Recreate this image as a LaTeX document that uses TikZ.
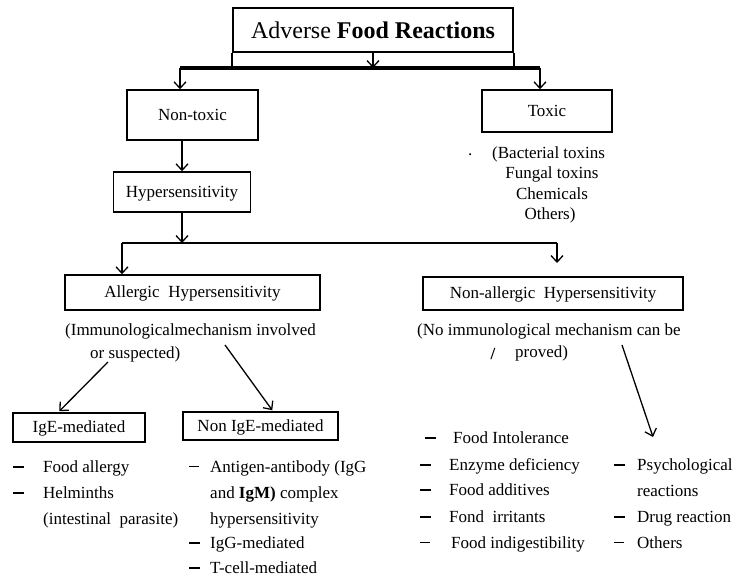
\documentclass[tikz,border=0pt]{standalone}
\usepackage{fontspec}
\setmainfont{Liberation Serif}
\usetikzlibrary{arrows.meta,calc}
% list dashes: heavy and light
\newcommand{\itemdash}{\rule[4.2pt]{11pt}{2pt}}
\newcommand{\itemdashlight}{\rule[4.6pt]{10pt}{1.1pt}}
\begin{document}
\begin{tikzpicture}[x=1pt,y=-1pt,
  txt/.style={font=\fontsize{17}{25}\selectfont, inner sep=0pt},
  item/.style={txt, anchor=base west},
  boxnode/.style={draw, line width=1.5pt, txt, text height=12pt, text depth=1.5pt},
  arr/.style={line width=1.3pt, -{Straight Barb[length=6.5pt,width=12pt]}},
  link/.style={line width=1.5pt},
]
\useasboundingbox (0,0) rectangle (738,577);

% ---------- title and first split ----------
\node[draw, line width=1.8pt, minimum width=280pt, minimum height=44pt,
      font=\fontsize{24}{28}\selectfont, inner sep=0pt] (title) at (373,30)
      {Adverse \textbf{Food Reactions}};
\coordinate (barL) at (180,68);
\coordinate (barR) at (540,68);
\draw[line width=1.6pt] (title.south west) -- (title.south west |- barL);
\draw[line width=1.6pt] (title.south east) -- (title.south east |- barL);
\draw[line width=3.5pt] (barL) -- (barR);
\draw[arr] (title.south) -- (title.south |- barL);

\node[boxnode, minimum width=131pt, minimum height=50pt] (nontox) at (192.5,115) {Non-toxic};
\node[boxnode, minimum width=130pt, minimum height=42pt] (tox) at (547,111) {Toxic};
\draw[arr] (barL) -- (barL |- nontox.north);
\draw[arr] (barR) -- (barR |- tox.north);

% ---------- toxic examples ----------
\node[item] (dot) at (468,156) {.};
\node[item] (tx1) at (492,159) {(Bacterial toxins};
\node[txt, anchor=base] (tx2) at (552,179) {Fungal toxins};
\node[txt, anchor=base] (tx3) at (552,200) {Chemicals};
\node[txt, anchor=base] (tx4) at (550,220) {Others)};

% ---------- hypersensitivity ----------
\node[boxnode, minimum width=137pt, minimum height=40pt] (hyper) at (182,192) {Hypersensitivity};
\draw[arr] (nontox.south -| hyper.north) -- (hyper.north);

\coordinate (hbarL) at (122,243);
\coordinate (hbarR) at (557,243);
\draw[link] (hbarL) -- (hbarR);
\draw[arr] (hyper.south) -- (hyper.south |- hbarL);

\node[boxnode, minimum width=255pt, minimum height=35pt] (allerg) at (192.5,292.5) {Allergic\ \ Hypersensitivity};
\node[boxnode, minimum width=260pt, minimum height=33pt] (nonallerg) at (553,293.5) {Non-allergic\ \ Hypersensitivity};
\coordinate (naTip) at (557,263);
\draw[arr] (hbarL) -- (hbarL |- allerg.north);
\draw[arr] (hbarR) -- (naTip);

% ---------- notes under the two branches ----------
\node[item] (an1) at (65,335) {(Immunologicalmechanism involved};
\node[item] (an2) at (90,358) {or suspected)};
\node[item] (nn1) at (417,335) {(No immunological mechanism can be};
\node[item] (nn2) at (515,357) {proved)};
\node[txt, anchor=base] (slash) at (493,359) {\textbf{/}};

% ---------- allergic sub-types ----------
\node[boxnode, minimum width=132pt, minimum height=29pt] (ige) at (79,427.5) {IgE-mediated};
\node[boxnode, minimum width=155pt, minimum height=28pt] (nonige) at (260.5,426) {Non IgE-mediated};

\coordinate (aStartL) at (108,362);
\coordinate (aStartR) at (225,345);
\draw[arr] (aStartL) -- ($(ige.north west)+(47,-1)$);
\draw[arr] (aStartR) -- ($(nonige.north west)+(90,-1)$);

\coordinate (nStart) at (622,345);
\coordinate (nEnd) at (653,437);
\draw[arr] (nStart) -- (nEnd);

% ---------- IgE-mediated list ----------
\node[item] (d1) at (13,472) {\itemdash};
\node[item] (l1) at (43,472) {Food allergy};
\node[item] (d2) at (13,498) {\itemdash};
\node[item] (l2) at (43,498) {Helminths};
\node[item] (l3) at (43,524) {(intestinal\ \ parasite)};

% ---------- non IgE-mediated list ----------
\node[item] (m0) at (189,472) {\itemdashlight};
\node[item] (m1) at (210,472) {Antigen-antibody (IgG};
\node[item] (m2) at (210,498) {and \textbf{IgM)} complex};
\node[item] (m3) at (210,524) {hypersensitivity};
\node[item] (m4d) at (189,548) {\itemdash};
\node[item] (m4) at (210,548) {IgG-mediated};
\node[item] (m5d) at (189,573) {\itemdash};
\node[item] (m5) at (210,573) {T-cell-mediated};

% ---------- non-allergic lists ----------
\node[item] (r0d) at (425,443) {\itemdash};
\node[item] (r0) at (453,443) {Food Intolerance};
\node[item] (r1d) at (420,470) {\itemdash};
\node[item] (r1) at (449,470) {Enzyme deficiency};
\node[item] (r2d) at (420,495) {\itemdash};
\node[item] (r2) at (449,495) {Food\ additives};
\node[item] (r3d) at (420,522) {\itemdash};
\node[item] (r3) at (449,522) {Fond\ \ irritants};
\node[item] (r4d) at (420,548) {\itemdashlight};
\node[item] (r4) at (451,548) {Food\ indigestibility};

\node[item] (s1d) at (614,470) {\itemdash};
\node[item] (s1) at (637,470) {Psychological};
\node[item] (s2) at (637,496) {reactions};
\node[item] (s3d) at (614,522) {\itemdash};
\node[item] (s3) at (637,522) {Drug reaction};
\node[item] (s4d) at (614,548) {\itemdashlight};
\node[item] (s4) at (637,548) {Others};
\end{tikzpicture}
\end{document}
